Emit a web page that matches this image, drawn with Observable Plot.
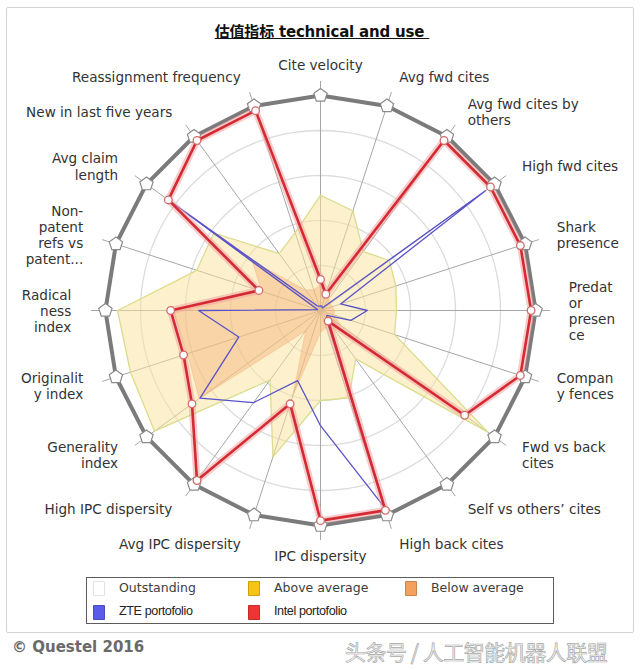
<!DOCTYPE html>
<html>
<head>
<meta charset="utf-8">
<script src="https://cdn.jsdelivr.net/npm/d3@7"></script>
<script src="https://cdn.jsdelivr.net/npm/@observablehq/plot@0.6"></script>
<style>
  body { margin: 0; background: #fff; }
  #page { position: relative; width: 640px; height: 670px; overflow: hidden; background: #fff; font-family: "DejaVu Sans", sans-serif; }
  #frame { position: absolute; left: 6px; top: 7px; width: 628px; height: 626px; border: 1px solid #d2d2d2; box-sizing: border-box; border-radius: 2px; }
  #title { position: absolute; left: 0; top: 20px; width: 644px; text-align: center; font: bold 15px "DejaVu Sans", "Noto Sans CJK SC", sans-serif; color: #111; text-decoration: underline; white-space: pre; letter-spacing: -0.2px; }
  #chart { position: absolute; left: 0; top: 0; }
  #legend { position: absolute; left: 86px; top: 577px; width: 468px; height: 47px; border: 1.5px solid #5c5c5c; box-sizing: border-box; background: #fff; }
  .sw { position: absolute; width: 12px; height: 15px; box-sizing: border-box; border: 1px solid rgba(0,0,0,0.18); border-radius: 1px; }
  .lt { position: absolute; white-space: nowrap; color: #3c3c3c; }
  .r0 { font: 12.5px "DejaVu Sans", sans-serif; }
  .r1 { font: 12.6px "Liberation Sans", sans-serif; letter-spacing: -0.4px; color: #222; }
  #copy { position: absolute; left: 12px; top: 638px; font: bold 15px "DejaVu Sans", sans-serif; color: #6a6a6a; white-space: nowrap; }
  #mark { position: absolute; left: 345px; top: 636px; font: 21px "Noto Sans CJK SC", sans-serif; color: #f6f6f6; -webkit-text-stroke: 0.7px #a8a8a8; white-space: pre; letter-spacing: -0.5px; }
</style>
</head>
<body>
<div id="page">
  <div id="frame"></div>
  <div id="chart"></div>
  <div id="title"></div>
  <div id="legend"></div>
  <div id="copy"></div>
  <div id="mark"></div>
</div>
<script>
// ---------- data ----------
const titleText = "估值指标 technical and use ";
const axes = [
  "Cite velocity", "Avg fwd cites", "Avg fwd cites by\nothers", "High fwd cites",
  "Shark\npresence", "Predat\nor\npresen\nce", "Compan\ny fences", "Fwd vs back\ncites",
  "Self vs others’ cites", "High back cites", "IPC dispersity", "Avg IPC dispersity",
  "High IPC dispersity", "Generality\nindex", "Originalit\ny index", "Radical\nness\nindex",
  "Non-\npatent\nrefs vs\npatent...", "Avg claim\nlength", "New in last five years", "Reassignment frequency"
];
const outstanding = [4.78, 4.78, 4.78, 4.78, 4.78, 4.78, 4.78, 4.78, 4.78, 4.78, 4.78, 4.78, 4.78, 4.78, 4.78, 4.78, 4.78, 4.78, 4.78, 4.78];
const aboveAverage = [2.56, 2.33, 1.62, 1.89, 1.76, 1.69, 1.73, 4.6, 1.33, 2.04, 2.0, 3.42, 1.91, 4.56, 4.44, 4.51, 2.89, 2.93, 1.56, 1.82];
const belowAverage = [0.56, 0.33, 0.31, 0.27, 0.27, 0.31, 0.31, 0.56, 0.31, 0.4, 0.49, 2.0, 0.56, 3.33, 3.11, 3.27, 1.38, 1.87, 0.56, 0.49];
const zte = [0.1, 0.1, 0.07, 4.53, 0.47, 1.04, 0.71, 0.18, 0.22, 4.6, 2.56, 1.64, 2.53, 3.31, 1.91, 2.71, 0.07, 4.08, 0.13, 0.1];
const intel = [0.69, 0.38, 4.67, 4.67, 4.67, 4.68, 4.67, 3.96, 0.29, 4.67, 4.67, 2.18, 4.67, 3.53, 3.2, 3.33, 1.44, 4.18, 4.67, 4.67];
const gridLevels = [1, 2, 3, 4];
const legendLabels = ["Outstanding", "Above average", "Below average", "ZTE portofolio", "Intel portofolio"];
const legendColors = ["#ffffff", "#f5c414", "#f3a15c", "#5b5bea", "#ee3434"];
const copyright = "© Questel 2016";
const watermark = "头条号 / 人工智能机器人联盟";

// ---------- layout ----------
const W = 640, H = 570, unit = 45, cx = 320, cy = 310;
const spokeLen = 5.1, labelR = 5.45;
const N = axes.length;
const ang = i => i * 2 * Math.PI / N;
const rows = (vals) => vals.map((v, i) => ({ i, v, x: v * Math.sin(ang(i)), y: v * Math.cos(ang(i)) }));

const ringPts = gridLevels.flatMap(l => d3.range(0, 360, 3).map(a => ({
  l, x: l * Math.sin(a * Math.PI / 180), y: l * Math.cos(a * Math.PI / 180)
})));
const spokes = axes.map((a, i) => ({ x2: spokeLen * Math.sin(ang(i)), y2: spokeLen * Math.cos(ang(i)) }));
const labels = axes.map((t, i) => {
  const s = Math.sin(ang(i));
  return { t, x: labelR * s, y: labelR * Math.cos(ang(i)), side: Math.abs(s) < 1e-6 ? "middle" : (s > 0 ? "start" : "end") };
});

const pentagon = {
  draw(ctx, size) {
    const R = Math.sqrt(size / Math.PI);
    for (let k = 0; k < 5; k++) {
      const a = -Math.PI / 2 + k * 2 * Math.PI / 5;
      const px = R * Math.cos(a), py = R * Math.sin(a);
      if (k === 0) ctx.moveTo(px, py); else ctx.lineTo(px, py);
    }
    ctx.closePath();
  }
};

const labelFont = 13.6;
const chart = Plot.plot({
  width: W, height: H, margin: 0,
  style: "background: transparent; overflow: visible; font-family: 'DejaVu Sans', sans-serif;",
  x: { domain: [-cx / unit, (W - cx) / unit], axis: null },
  y: { domain: [(cy - H) / unit, cy / unit], axis: null },
  marks: [
    Plot.line(ringPts, { x: "x", y: "y", z: "l", curve: "linear-closed", stroke: "#dcdcdc", strokeWidth: 1.3 }),
    Plot.link(spokes, { x1: 0, y1: 0, x2: "x2", y2: "y2", stroke: "#a6a6a6", strokeWidth: 1 }),
    Plot.line(rows(aboveAverage), { x: "x", y: "y", curve: "linear-closed", fill: "#f9e39a", fillOpacity: 0.5, stroke: "#dadd8e", strokeWidth: 1.3 }),
    Plot.line(rows(belowAverage), { x: "x", y: "y", curve: "linear-closed", fill: "#f3aa6e", fillOpacity: 0.4, stroke: "#efb585", strokeWidth: 0.8, strokeOpacity: 0.6 }),
    Plot.line(rows(zte), { x: "x", y: "y", curve: "linear-closed", stroke: "#5a52c8", strokeWidth: 1.3 }),
    Plot.line(rows(outstanding), { x: "x", y: "y", curve: "linear-closed", stroke: "#7b7b7b", strokeWidth: 4 }),
    Plot.line(rows(intel), { x: "x", y: "y", curve: "linear-closed", stroke: "#f3a3a3", strokeWidth: 7, strokeOpacity: 0.55 }),
    Plot.line(rows(intel), { x: "x", y: "y", curve: "linear-closed", stroke: "#d42a33", strokeWidth: 2.6 }),
    Plot.dot(rows(outstanding), { x: "x", y: "y", symbol: pentagon, r: 7, fill: "white", stroke: "#8a8a8a", strokeWidth: 1.2 }),
    Plot.dot(rows(intel), { x: "x", y: "y", r: 3.8, fill: "white", stroke: "#d46a6a", strokeWidth: 1.3 }),
    Plot.text(labels.filter(d => d.side === "start"), { x: "x", y: "y", text: "t", textAnchor: "start", lineAnchor: "middle", dx: 3, fontSize: labelFont, lineHeight: 1.18, fill: "#333" }),
    Plot.text(labels.filter(d => d.side === "end"), { x: "x", y: "y", text: "t", textAnchor: "end", lineAnchor: "middle", dx: -4, fontSize: labelFont, lineHeight: 1.18, fill: "#333" }),
    Plot.text(labels.filter(d => d.side === "middle"), { x: "x", y: "y", text: "t", textAnchor: "middle", lineAnchor: "middle", fontSize: labelFont, lineHeight: 1.18, fill: "#333" })
  ]
});
document.getElementById("chart").appendChild(chart);
document.getElementById("title").textContent = titleText;
document.getElementById("copy").textContent = copyright;
document.getElementById("mark").textContent = watermark;

// legend
const lg = document.getElementById("legend");
const colX = [6, 161, 318], rowY = [3, 27];
legendLabels.forEach((lab, k) => {
  const c = k % 3, r = Math.floor(k / 3);
  const sw = document.createElement("div");
  sw.className = "sw";
  sw.style.left = colX[c] + "px";
  sw.style.top = rowY[r] + "px";
  sw.style.background = legendColors[k];
  if (k === 0) sw.style.border = "1px solid #e2e2e2";
  lg.appendChild(sw);
  const t = document.createElement("div");
  t.className = "lt " + (r === 0 ? "r0" : "r1");
  t.textContent = lab;
  t.style.left = (colX[c] + 26) + "px";
  t.style.top = (rowY[r] - 1) + "px";
  lg.appendChild(t);
});
</script>
</body>
</html>
